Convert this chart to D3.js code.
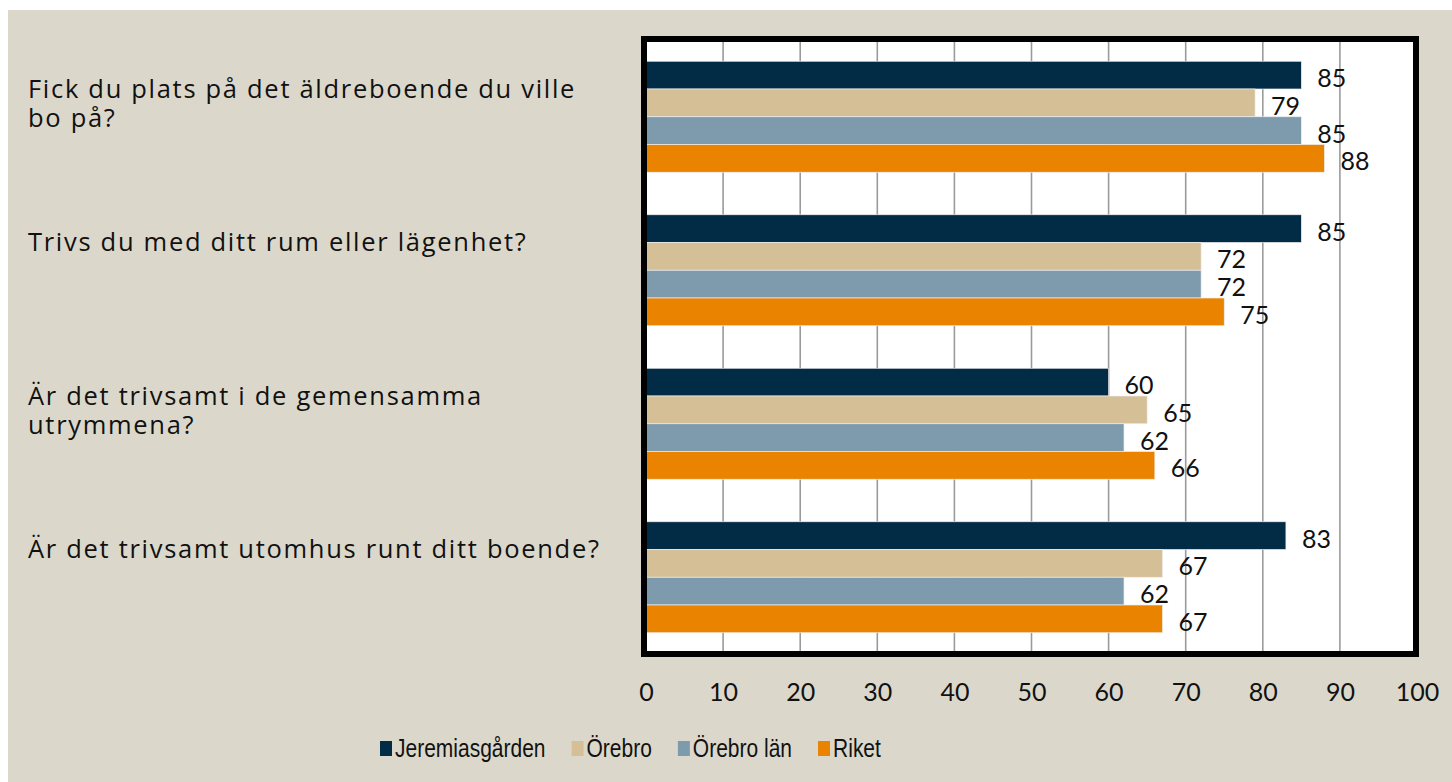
<!DOCTYPE html>
<html>
<head>
<meta charset="utf-8">
<script src="https://cdnjs.cloudflare.com/ajax/libs/d3/7.8.5/d3.min.js"></script>
<style>
    body { margin: 0; background: #ffffff; }
    text { fill: #111111; }
</style>
</head>
<body>
<div id="chart"></div>
<script>
// data
var questions = [
    ["Fick du plats på det äldreboende du ville", "bo på?"],
    ["Trivs du med ditt rum eller lägenhet?"],
    ["Är det trivsamt i de gemensamma", "utrymmena?"],
    ["Är det trivsamt utomhus runt ditt boende?"]
];
var seriesNames = ["Jeremiasgården", "Örebro", "Örebro län", "Riket"];
var jeremiasgarden = [85, 85, 60, 83];
var orebro = [79, 72, 65, 67];
var orebroLan = [85, 72, 62, 62];
var riket = [88, 75, 66, 67];
var xTicks = [0, 10, 20, 30, 40, 50, 60, 70, 80, 90, 100];

var colors = ["#022b45", "#d4bf96", "#7e9bad", "#e98300"];
var allSeries = [jeremiasgarden, orebro, orebroLan, riket];

var labelFont = "'Lato', 'Noto Sans', sans-serif";
var catFont = "'Open Sans', 'Noto Sans', sans-serif";

// SVG drawing area
var width = 1452;
var height = 782;
var plot = {left: 644, right: 1416, top: 39, bottom: 654};

var svg = d3.select("#chart").append("svg")
    .attr("width", width)
    .attr("height", height);

svg.append("rect")
    .attr("x", 8)
    .attr("y", 10)
    .attr("width", width - 8)
    .attr("height", height - 10)
    .attr("fill", "#dbd8cb");

svg.append("rect")
    .attr("x", plot.left)
    .attr("y", plot.top)
    .attr("width", plot.right - plot.left)
    .attr("height", plot.bottom - plot.top)
    .attr("fill", "#ffffff");

var x = d3.scaleLinear()
    .domain([0, 100])
    .range([plot.left + 2, plot.right + 1]);

var y0 = d3.scaleBand()
    .domain(d3.range(questions.length))
    .range([plot.top + 1, plot.bottom])
    .paddingInner(0.277)
    .paddingOuter(0.1385);

var y1 = d3.scaleBand()
    .domain(d3.range(seriesNames.length))
    .range([0, y0.bandwidth()]);

// gridlines
svg.append("g")
    .attr("class", "grid")
    .selectAll("line")
    .data(xTicks.filter(function (d) { return d > 0 && d < 100; }))
    .enter()
    .append("line")
    .attr("x1", function (d) { return x(d); })
    .attr("x2", function (d) { return x(d); })
    .attr("y1", plot.top)
    .attr("y2", plot.bottom)
    .attr("stroke", "#9b9b9b")
    .attr("stroke-width", 1.6);

// bars
var rows = [];
questions.forEach(function (q, i) {
    allSeries.forEach(function (s, j) {
        rows.push({q: i, s: j, value: s[i]});
    });
});

var groups = svg.append("g").attr("class", "bars");

groups.selectAll("rect")
    .data(rows)
    .enter()
    .append("rect")
    .attr("x", x(0) - 1)
    .attr("y", function (d) { return y0(d.q) + y1(d.s); })
    .attr("width", function (d) { return x(d.value) - x(0) + 1; })
    .attr("height", y1.bandwidth())
    .attr("fill", function (d) { return colors[d.s]; })
    .attr("stroke", "#eeeeee")
    .attr("stroke-width", 0.7);

groups.selectAll("text")
    .data(rows)
    .enter()
    .append("text")
    .attr("x", function (d) { return x(d.value) + 16; })
    .attr("y", function (d) { return y0(d.q) + y1(d.s) + y1.bandwidth() / 2 + 2; })
    .attr("dominant-baseline", "central")
    .style("font-family", labelFont)
    .style("font-size", "25px")
    .text(function (d) { return d.value; });

// frame
svg.append("rect")
    .attr("x", plot.left)
    .attr("y", plot.top)
    .attr("width", plot.right - plot.left)
    .attr("height", plot.bottom - plot.top)
    .attr("fill", "none")
    .attr("stroke", "#000000")
    .attr("stroke-width", 6);

// x axis labels
var xAxis = d3.axisBottom(x)
    .tickValues(xTicks)
    .tickSize(0)
    .tickPadding(0);

var axisG = svg.append("g")
    .attr("transform", "translate(0," + 691 + ")")
    .call(xAxis);
axisG.select(".domain").remove();
axisG.selectAll("text")
    .attr("y", 0)
    .attr("dy", null)
    .attr("dominant-baseline", "central")
    .style("font-family", labelFont)
    .style("font-size", "25px")
    .attr("fill", "#111111");

// category labels
var cat = svg.append("g").attr("class", "categories");
questions.forEach(function (lines, i) {
    var c = y0(i) + y0.bandwidth() / 2;
    var t = cat.append("text")
        .style("font-family", catFont)
        .style("font-size", "25.5px")
        .style("letter-spacing", "1.7px");
    lines.forEach(function (line, k) {
        t.append("tspan")
            .attr("x", 28)
            .attr("y", c - 19 + k * 29)
            .text(line);
    });
});

// legend
var legend = svg.append("g").attr("class", "legend");
var squeeze = 0.84;
var lx = 380;
seriesNames.forEach(function (name, i) {
    legend.append("rect")
        .attr("x", lx)
        .attr("y", 741)
        .attr("width", 12)
        .attr("height", 15)
        .attr("fill", colors[i]);
    var txt = legend.append("text")
        .attr("transform", "translate(" + (lx + 15) + ",757) scale(" + squeeze + ",1)")
        .style("font-family", "'Liberation Sans', sans-serif")
        .style("font-size", "25px")
        .text(name);
    lx = lx + 15 + txt.node().getComputedTextLength() * squeeze + 26;
});
</script>
</body>
</html>
